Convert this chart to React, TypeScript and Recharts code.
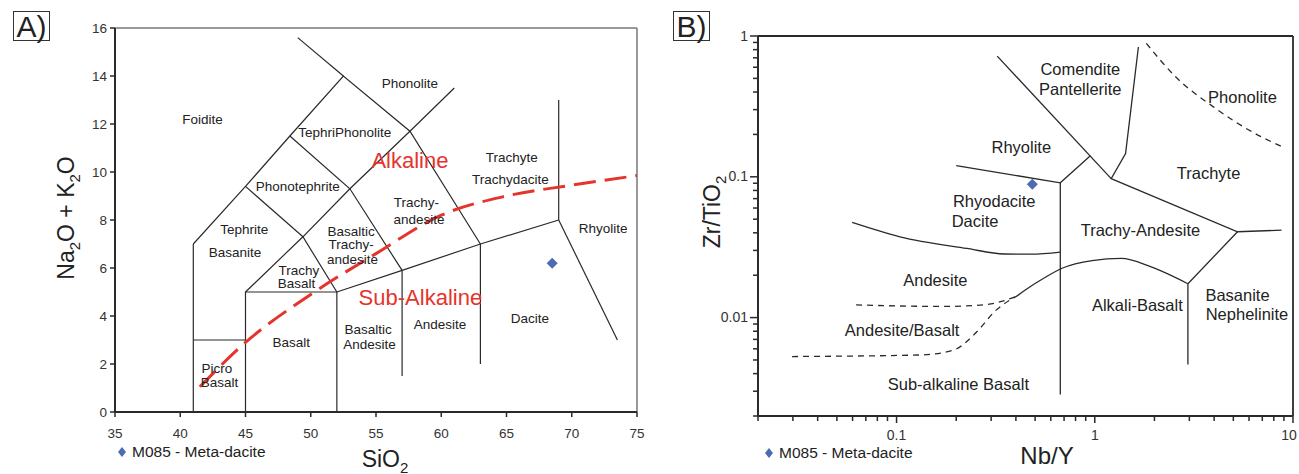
import { ComposedChart, Line, Scatter, XAxis, YAxis, ReferenceLine } from "recharts";

type P = [number, number];

// ---------- A) TAS diagram ----------
const tasXTicks = [35, 40, 45, 50, 55, 60, 65, 70, 75];
const tasYTicks = [0, 2, 4, 6, 8, 10, 12, 14, 16];

// field boundaries (SiO2, Na2O+K2O)
const tasBoundaries: P[][] = [
  [[41, 0], [41, 7]],
  [[41, 3], [45, 3]],
  [[45, 0], [45, 5], [52, 5], [52, 0]],
  [[45, 5], [49.4, 7.3], [52, 5]],
  [[41, 7], [45, 9.4], [48.4, 11.5], [52.5, 14], [57.6, 11.7], [63, 7]],
  [[49.4, 7.3], [45, 9.4]],
  [[49.4, 7.3], [53, 9.3], [57.6, 11.7], [61, 13.5]],
  [[48.4, 11.5], [53, 9.3], [57, 5.9]],
  [[52, 5], [57, 5.9], [63, 7], [69, 8]],
  [[57, 5.9], [57, 1.5]],
  [[63, 7], [63, 2]],
  [[69, 8], [69, 13]],
  [[69, 8], [73.5, 3]],
  [[52.5, 14], [49, 15.6]],
];

// alkaline / sub-alkaline divide
const alkalineDivide: P[] = [
  [41.5, 1.05], [45, 2.9], [50, 4.9], [55, 6.6], [60, 8.2], [65, 9.0], [70, 9.45], [75, 9.85],
];

const tasFields = [
  { x: 41.7, y: 12.2, t: "Foidite" },
  { x: 57.6, y: 13.7, t: "Phonolite" },
  { x: 52.6, y: 11.65, t: "TephriPhonolite" },
  { x: 49.0, y: 9.4, t: "Phonotephrite" },
  { x: 65.4, y: 10.6, t: "Trachyte" },
  { x: 65.3, y: 9.7, t: "Trachydacite" },
  { x: 58.1, y: 8.75, t: "Trachy-" },
  { x: 58.3, y: 8.05, t: "andesite" },
  { x: 44.9, y: 7.6, t: "Tephrite" },
  { x: 44.2, y: 6.65, t: "Basanite" },
  { x: 53.1, y: 7.55, t: "Basaltic" },
  { x: 53.1, y: 6.97, t: "Trachy-" },
  { x: 53.2, y: 6.35, t: "andesite" },
  { x: 49.1, y: 5.9, t: "Trachy" },
  { x: 48.9, y: 5.35, t: "Basalt" },
  { x: 72.4, y: 7.65, t: "Rhyolite" },
  { x: 66.8, y: 3.9, t: "Dacite" },
  { x: 59.9, y: 3.65, t: "Andesite" },
  { x: 54.4, y: 3.45, t: "Basaltic" },
  { x: 54.5, y: 2.83, t: "Andesite" },
  { x: 48.5, y: 2.9, t: "Basalt" },
  { x: 42.8, y: 1.83, t: "Picro" },
  { x: 43.0, y: 1.25, t: "Basalt" },
];

const tasSeriesNames = [
  { x: 57.6, y: 10.5, t: "Alkaline" },
  { x: 58.4, y: 4.8, t: "Sub-Alkaline" },
];

const tasSamples = [{ x: 68.5, y: 6.2 }];

// ---------- B) Winchester & Floyd ----------
const wfXTicks = [0.02, 0.03, 0.04, 0.05, 0.06, 0.07, 0.08, 0.09, 0.1, 0.2, 0.3, 0.4, 0.5, 0.6, 0.7, 0.8, 0.9, 1, 2, 3, 4, 5, 6, 7, 8, 9, 10];
const wfXLabels = [0.1, 1, 10];
const wfYTicks = [0.002, 0.003, 0.004, 0.005, 0.006, 0.007, 0.008, 0.009, 0.01, 0.02, 0.03, 0.04, 0.05, 0.06, 0.07, 0.08, 0.09, 0.1, 0.2, 0.3, 0.4, 0.5, 0.6, 0.7, 0.8, 0.9, 1];
const wfYLabels = [0.01, 0.1, 1];

// (Nb/Y, Zr/TiO2)
const wfBoundaries: P[][] = [
  [[0.322, 0.72], [1.21, 0.097]],
  [[0.2, 0.12], [0.67, 0.0906], [0.95, 0.141]],
  [[0.67, 0.0906], [0.67, 0.00284]],
  [[1.66, 0.836], [1.43, 0.146], [1.21, 0.097], [5.25, 0.0407], [8.75, 0.0418]],
  [[5.25, 0.0407], [2.95, 0.0174], [2.95, 0.00464]],
];
const wfCurves: P[][] = [
  [[0.406, 0.01426], [0.446, 0.0157], [0.569, 0.0195], [0.684, 0.0224], [0.97, 0.0254], [1.36, 0.0263], [1.91, 0.023], [2.95, 0.0174]],
  [[0.0597, 0.0474], [0.104, 0.0375], [0.226, 0.031], [0.35, 0.0283], [0.48, 0.0282], [0.67, 0.0292]],
];
const wfDashed: P[][] = [
  [[0.0625, 0.0123], [0.17, 0.012], [0.274, 0.0123], [0.35, 0.0132], [0.406, 0.01426]],
  [[0.0297, 0.00529], [0.133, 0.00543], [0.195, 0.0059], [0.249, 0.0077], [0.318, 0.0113], [0.406, 0.01426]],
  [[1.82, 0.887], [2.55, 0.515], [3.95, 0.315], [6.4, 0.204], [8.77, 0.164]],
];

const wfFields = [
  { x: 0.845, y: 0.583, t: "Comendite" },
  { x: 0.845, y: 0.42, t: "Pantellerite" },
  { x: 5.56, y: 0.368, t: "Phonolite" },
  { x: 0.426, y: 0.163, t: "Rhyolite" },
  { x: 3.75, y: 0.106, t: "Trachyte" },
  { x: 0.311, y: 0.0672, t: "Rhyodacite" },
  { x: 0.249, y: 0.0484, t: "Dacite" },
  { x: 1.7, y: 0.0418, t: "Trachy-Andesite" },
  { x: 0.157, y: 0.01845, t: "Andesite" },
  { x: 1.64, y: 0.01225, t: "Alkali-Basalt" },
  { x: 5.25, y: 0.0144, t: "Basanite" },
  { x: 5.86, y: 0.01057, t: "Nephelinite" },
  { x: 0.1067, y: 0.00813, t: "Andesite/Basalt" },
  { x: 0.205, y: 0.00336, t: "Sub-alkaline Basalt" },
];

const wfSamples = [{ x: 0.484, y: 0.0887 }];

const sampleName = "M085 - Meta-dacite";

// ---------- helpers ----------
const FONT = '"Liberation Sans", Arial, sans-serif';
const INK = "#2a2a2a";
const RED = "#e4342c";
const BLUE = "#4d6bb0";

const pts = (seg: P[]) => seg.map(([x, y]) => ({ x, y }));

const Diamond = (props: any) => {
  const { cx, cy } = props;
  const r = 5.5;
  return <polygon points={`${cx},${cy - r} ${cx + r},${cy} ${cx},${cy + r} ${cx - r},${cy}`} fill={BLUE} />;
};

const makeText = (size: number, fill: string) => (props: any) => {
  const { cx, cy, payload } = props;
  return (
    <text x={cx} y={cy} dy={size * 0.35} textAnchor="middle" fontSize={size} fill={fill} fontFamily={FONT}>
      {payload.t}
    </text>
  );
};

const TasXTick = (props: any) => {
  const { x, y, payload } = props;
  return (
    <g>
      <line x1={x} y1={y} x2={x} y2={y + 5} stroke={INK} strokeWidth={1.5} />
      <text x={x} y={y + 26} textAnchor="middle" fontSize={13.5} fill="#333" fontFamily={FONT}>{payload.value}</text>
    </g>
  );
};

const TasYTick = (props: any) => {
  const { x, y, payload } = props;
  return (
    <g>
      <line x1={x} y1={y} x2={x - 5} y2={y} stroke={INK} strokeWidth={1.5} />
      <text x={x - 8} y={y + 4.5} textAnchor="end" fontSize={13.5} fill="#333" fontFamily={FONT}>{payload.value}</text>
    </g>
  );
};

const WfXTick = (props: any) => {
  const { x, y, payload } = props;
  const major = wfXLabels.includes(payload.value);
  const lx = payload.value === 10 ? x - 4 : x;
  return (
    <g>
      <line x1={x} y1={y} x2={x} y2={y + (major ? 7 : 5)} stroke={INK} strokeWidth={1.5} />
      {major && (
        <text x={lx} y={y + 24} textAnchor="middle" fontSize={14} fill="#333" fontFamily={FONT}>{payload.value}</text>
      )}
    </g>
  );
};

const WfYTick = (props: any) => {
  const { x, y, payload } = props;
  const major = wfYLabels.includes(payload.value);
  return (
    <g>
      <line x1={x} y1={y} x2={x - (major ? 8 : 5)} y2={y} stroke={INK} strokeWidth={1.5} />
      {major && (
        <text x={x - 10} y={y + 4.5} textAnchor="end" fontSize={14} fill="#333" fontFamily={FONT}>{payload.value}</text>
      )}
    </g>
  );
};

const boxLabel = (left: number, text: string) => (
  <div
    style={{
      position: "absolute", left, top: 11, width: 35, height: 28, border: "1.5px solid #333",
      fontSize: 30, lineHeight: "29px", textAlign: "center", color: "#222",
    }}
  >
    {text}
  </div>
);

const legend = (left: number, top: number) => (
  <div style={{ position: "absolute", left, top, fontSize: 15.5, lineHeight: "16px", color: "#222", whiteSpace: "nowrap", display: "flex", alignItems: "center" }}>
    <svg width={10} height={12} style={{ marginRight: 5 }}>
      <polygon points="5,1 9,6 5,11 1,6" fill={BLUE} />
    </svg>
    {sampleName}
  </div>
);

export default function App() {
  return (
    <div style={{ position: "absolute", left: 0, top: 0, width: 1299, height: 474, background: "#fff", fontFamily: FONT }}>
      {/* A) TAS */}
      <div style={{ position: "absolute", left: 0, top: 0 }}>
        <ComposedChart width={650} height={474} margin={{ top: 28, right: 13, bottom: 0, left: 0 }}>
          <XAxis
            dataKey="x" type="number" domain={[35, 75]} ticks={tasXTicks} allowDataOverflow
            height={62} tickSize={0} tickMargin={0} interval={0} tick={<TasXTick />}
            axisLine={{ stroke: INK, strokeWidth: 2 }}
          />
          <YAxis
            dataKey="y" type="number" domain={[0, 16]} ticks={tasYTicks} allowDataOverflow
            width={115} tickSize={0} tickMargin={0} interval={0} tick={<TasYTick />}
            axisLine={{ stroke: INK, strokeWidth: 2 }}
          />
          <ReferenceLine y={16} stroke="#777" strokeWidth={1.5} />
          <ReferenceLine x={75} stroke="#777" strokeWidth={1.5} />
          {tasBoundaries.map((seg, i) => (
            <Line key={"b" + i} data={pts(seg)} dataKey="y" type="linear" stroke={INK} strokeWidth={1.2}
              dot={false} activeDot={false} isAnimationActive={false} />
          ))}
          <Line data={pts(alkalineDivide)} dataKey="y" type="monotone" stroke={RED} strokeWidth={3}
            strokeDasharray="22 9" dot={false} activeDot={false} isAnimationActive={false} />
          <Scatter data={tasFields} shape={makeText(13.5, "#222")} isAnimationActive={false} />
          <Scatter data={tasSeriesNames} shape={makeText(22, RED)} isAnimationActive={false} />
          <Scatter data={tasSamples} shape={<Diamond />} isAnimationActive={false} />
        </ComposedChart>
      </div>

      {/* B) Zr/TiO2 vs Nb/Y */}
      <div style={{ position: "absolute", left: 650, top: 0 }}>
        <ComposedChart width={649} height={474} margin={{ top: 36, right: 6, bottom: 0, left: 0 }}>
          <XAxis
            dataKey="x" type="number" scale="log" domain={[0.02, 10]} ticks={wfXTicks} allowDataOverflow
            height={58} tickSize={0} tickMargin={0} interval={0} tick={<WfXTick />}
            axisLine={{ stroke: INK, strokeWidth: 2 }}
          />
          <YAxis
            dataKey="y" type="number" scale="log" domain={[0.002, 1]} ticks={wfYTicks} allowDataOverflow
            width={108} tickSize={0} tickMargin={0} interval={0} tick={<WfYTick />}
            axisLine={{ stroke: INK, strokeWidth: 2 }}
          />
          <ReferenceLine y={1} stroke={INK} strokeWidth={1.8} />
          <ReferenceLine x={10} stroke={INK} strokeWidth={1.8} />
          {wfBoundaries.map((seg, i) => (
            <Line key={"wb" + i} data={pts(seg)} dataKey="y" type="linear" stroke={INK} strokeWidth={1.3}
              dot={false} activeDot={false} isAnimationActive={false} />
          ))}
          {wfCurves.map((seg, i) => (
            <Line key={"wc" + i} data={pts(seg)} dataKey="y" type="monotone" stroke={INK} strokeWidth={1.3}
              dot={false} activeDot={false} isAnimationActive={false} />
          ))}
          {wfDashed.map((seg, i) => (
            <Line key={"wd" + i} data={pts(seg)} dataKey="y" type="monotone" stroke={INK} strokeWidth={1.3}
              strokeDasharray="6 5" dot={false} activeDot={false} isAnimationActive={false} />
          ))}
          <Scatter data={wfFields} shape={makeText(16.5, "#222")} isAnimationActive={false} />
          <Scatter data={wfSamples} shape={<Diamond />} isAnimationActive={false} />
        </ComposedChart>
      </div>

      {boxLabel(13, "A)")}
      {boxLabel(673, "B)")}
      {legend(117, 444)}
      {legend(764, 445)}

      <div style={{ position: "absolute", left: 385, top: 461, transform: "translate(-50%,-50%)", fontSize: 23, color: "#222", whiteSpace: "nowrap" }}>
        SiO<sub style={{ fontSize: 15 }}>2</sub>
      </div>
      <div style={{ position: "absolute", left: 1047, top: 456, transform: "translate(-50%,-50%)", fontSize: 24, color: "#222", whiteSpace: "nowrap" }}>
        Nb/Y
      </div>
      <div style={{ position: "absolute", left: 68, top: 218, transform: "translate(-50%,-50%) rotate(-90deg)", fontSize: 23, color: "#222", whiteSpace: "nowrap" }}>
        Na<sub style={{ fontSize: 15 }}>2</sub>O + K<sub style={{ fontSize: 15 }}>2</sub>O
      </div>
      <div style={{ position: "absolute", left: 714, top: 212, transform: "translate(-50%,-50%) rotate(-90deg)", fontSize: 23, color: "#222", whiteSpace: "nowrap" }}>
        Zr/TiO<sub style={{ fontSize: 15 }}>2</sub>
      </div>
    </div>
  );
}
